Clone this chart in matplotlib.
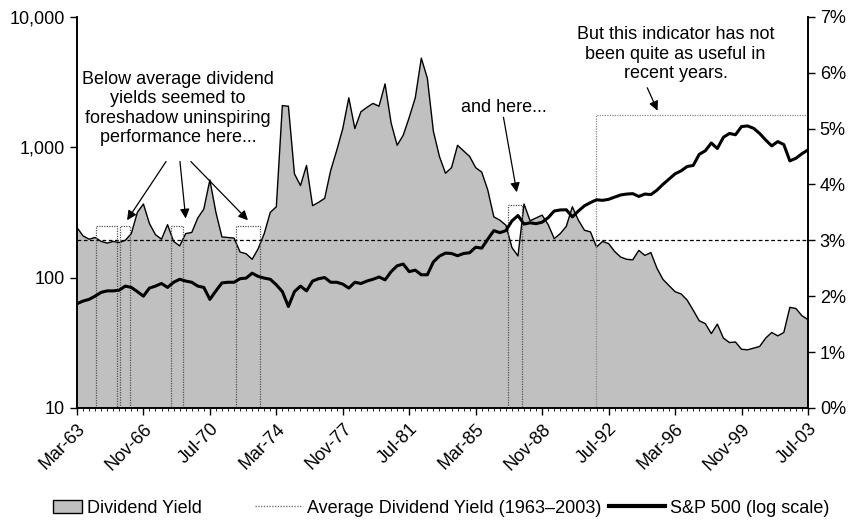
import numpy as np
import matplotlib
matplotlib.use("Agg")
import matplotlib.pyplot as plt
from matplotlib.patches import Rectangle, Patch
from matplotlib.lines import Line2D
from matplotlib.ticker import FuncFormatter, FixedLocator, MultipleLocator

plt.rcParams['font.family'] = ['Liberation Sans', 'DejaVu Sans']

# one observation every 4 months, Mar-63 .. Jul-03
tick_labels = ['Mar-63', 'Nov-66', 'Jul-70', 'Mar-74', 'Nov-77', 'Jul-81',
               'Mar-85', 'Nov-88', 'Jul-92', 'Mar-96', 'Nov-99', 'Jul-03']

# dividend yield, %
div_yield = [3.23, 3.08, 3.02, 3.05, 2.98, 2.95, 2.98, 2.96, 3.00, 3.12,
             3.50, 3.65, 3.30, 3.10, 3.02, 3.28, 2.98, 2.90, 3.12, 3.14,
             3.40, 3.56, 4.08, 3.50, 3.06, 3.05, 3.04, 2.79, 2.76, 2.66,
             2.85, 3.12, 3.50, 3.60, 5.41, 5.40, 4.19, 3.98, 4.34, 3.62,
             3.68, 3.75, 4.25, 4.61, 5.00, 5.55, 5.00, 5.30, 5.38, 5.45,
             5.40, 5.80, 5.10, 4.70, 4.88, 5.20, 5.55, 6.26, 5.90, 4.95,
             4.50, 4.20, 4.30, 4.70, 4.60, 4.50, 4.30, 4.22, 3.90, 3.42,
             3.36, 3.27, 2.87, 2.72, 3.65, 3.35, 3.40, 3.45, 3.28, 3.03,
             3.12, 3.25, 3.60, 3.36, 3.18, 3.15, 2.88, 2.98, 2.94, 2.80,
             2.70, 2.66, 2.65, 2.82, 2.73, 2.78, 2.50, 2.30, 2.19, 2.08,
             2.04, 1.93, 1.75, 1.56, 1.51, 1.33, 1.50, 1.25, 1.17, 1.18,
             1.05, 1.04, 1.07, 1.10, 1.25, 1.35, 1.29, 1.35, 1.80, 1.78,
             1.65, 1.58]

# S&P 500 index level
sp500 = [63, 66, 68, 72, 77, 79, 79, 80, 86, 84,
         78, 72, 83, 86, 90, 84, 92, 97, 94, 92,
         86, 84, 68, 79, 91, 92, 92, 98, 99, 108,
         102, 99, 97, 88, 78, 60, 78, 86, 79, 94,
         98, 100, 92, 92, 89, 83, 92, 90, 94, 97,
         101, 96, 111, 123, 127, 111, 114, 105, 105, 132,
         146, 154, 153, 147, 153, 155, 171, 168, 197, 229,
         221, 229, 272, 299, 257, 263, 259, 266, 288, 324,
         330, 331, 292, 324, 355, 376, 395, 391, 398, 414,
         430, 437, 440, 419, 437, 433, 468, 519, 569, 625,
         658, 711, 724, 881, 938, 1076, 977, 1191, 1274, 1245,
         1439, 1455, 1396, 1274, 1135, 1023, 1104, 1047, 785, 822,
         891, 953]

avg_yield = 3.0

# periods flagged with boxes (index span, box top in %)
flagged = [(3.1, 6.6, 3.25), (7.2, 8.7, 3.25), (15.6, 17.5, 3.25),
           (26.4, 30.3, 3.25), (71.4, 73.7, 3.63)]

idx = np.arange(len(div_yield))

fig = plt.figure(figsize=(8.55, 5.25), dpi=100)
ax = fig.add_axes([0.090, 0.223, 0.855, 0.745])
ax2 = ax.twinx()
ax.set_zorder(ax2.get_zorder() + 1)
ax.patch.set_visible(False)

# yield area on the right axis
ax2.fill_between(idx, div_yield, 0, facecolor='#c0c0c0', edgecolor='none', zorder=1)
ax2.plot(idx, div_yield, color='black', lw=1.0, zorder=2)
ax2.axhline(avg_yield, color='black', lw=0.9, ls=(0, (3, 2)), zorder=3)

for x0, x1, top in flagged:
    ax2.add_patch(Rectangle((x0, 0), x1 - x0, top, fill=False, edgecolor='#555555',
                            lw=0.9, ls=(0, (1, 1)), zorder=4))
ax2.add_patch(Rectangle((85.9, 0), 121 - 85.9, 5.25, fill=False, edgecolor='#888888',
                        lw=0.9, ls=(0, (1, 1)), zorder=4))

# S&P 500 on top
ax.plot(idx, sp500, color='black', lw=2.2, solid_joinstyle='round', zorder=5)
ax.set_yscale('log')
ax.set_ylim(10, 10000)
ax.set_xlim(0, len(idx) - 1)
ax.yaxis.set_major_formatter(FuncFormatter(lambda v, p: f'{v:,.0f}'))
ax.yaxis.set_minor_locator(FixedLocator([]))

ax2.set_ylim(0, 7)
ax2.yaxis.set_major_locator(MultipleLocator(1))
ax2.yaxis.set_major_formatter(FuncFormatter(lambda v, p: f'{v:.0f}%'))

ax.set_xticks(np.arange(0, len(idx), 11))
ax.set_xticklabels(tick_labels, rotation=45, ha='right', rotation_mode='anchor')
ax.xaxis.set_minor_locator(MultipleLocator(1))

for a in (ax, ax2):
    a.spines['top'].set_visible(False)
    for s in a.spines.values():
        s.set_linewidth(1.2)
    a.tick_params(labelsize=13, length=5, width=1.0)
    a.tick_params(which='minor', length=2, width=0.6)
ax.tick_params(axis='x', pad=4)

ann = dict(arrowstyle='-|>', color='black', lw=0.9, mutation_scale=14, shrinkA=0, shrinkB=0)
ax2.text(16.7, 5.36, 'Below average dividend\nyields seemed to\nforeshadow uninspiring\nperformance here...',
         ha='center', va='center', fontsize=13, linespacing=1.2, zorder=6)
for tx, hx, hy in [(14.75, 8.3, 3.36), (17.05, 18.0, 3.39), (18.85, 28.3, 3.36)]:
    ax2.annotate('', xy=(hx, hy), xytext=(tx, 4.41), arrowprops=ann, zorder=6)

ax2.text(70.6, 5.38, 'and here...', ha='center', va='center', fontsize=13, zorder=6)
ax2.annotate('', xy=(72.8, 3.86), xytext=(70.6, 5.2), arrowprops=ann, zorder=6)

ax2.text(99.1, 6.33, 'But this indicator has not\nbeen quite as useful in\nrecent years.',
         ha='center', va='center', fontsize=13, linespacing=1.2, zorder=6)
ax2.annotate('', xy=(96.1, 5.32), xytext=(94.4, 5.73), arrowprops=ann, zorder=6)

# legend entries placed individually, like the original layout
legend_items = [
    (Patch(facecolor='#c0c0c0', edgecolor='black', lw=1.0), 'Dividend Yield', 1.6, 0.062),
    (Line2D([], [], color='#777777', lw=1.0, ls=(0, (1, 1))),
     'Average Dividend Yield (1963\u20132003)', 2.6, 0.298),
    (Line2D([], [], color='black', lw=3.0), 'S&P 500 (log scale)', 3.1, 0.712),
]
for h, lab, hl, xpos in legend_items:
    lg = fig.legend([h], [lab], loc='center left', bbox_to_anchor=(xpos, 0.032),
                    frameon=False, fontsize=13, handlelength=hl, handletextpad=0.3,
                    borderpad=0, borderaxespad=0)

fig.savefig('out.png', dpi=100)
